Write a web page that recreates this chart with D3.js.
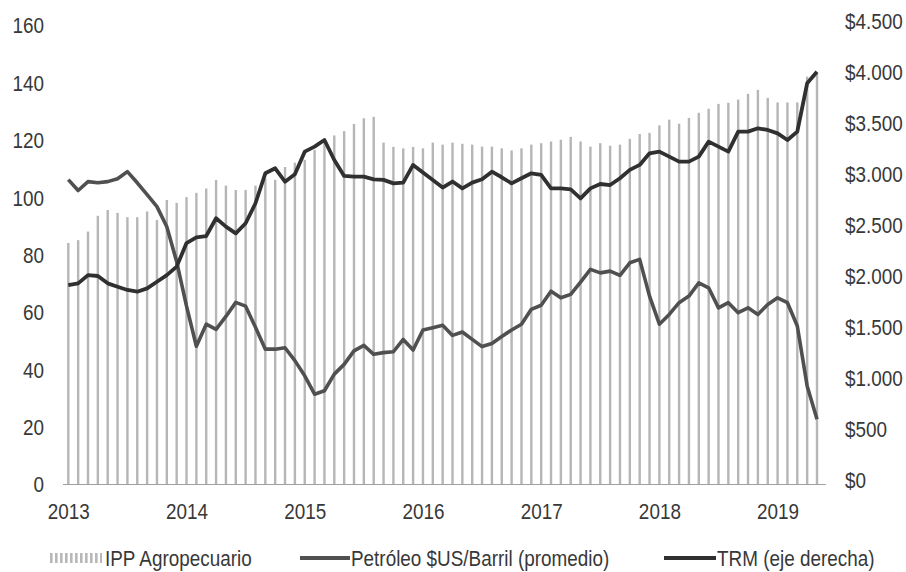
<!DOCTYPE html>
<html>
<head>
<meta charset="utf-8">
<script src="https://cdn.jsdelivr.net/npm/d3@7"></script>
<style>
  html, body { margin: 0; padding: 0; background: #ffffff; }
  svg text { font-family: "Liberation Sans Narrow", "Arial Narrow", "Liberation Sans", sans-serif; fill: #383838; }
</style>
</head>
<body>
<svg id="chart" width="906" height="572"></svg>
<script>
// ---- data ----
const months = d3.range(77).map(i => {
  const y = 2013 + Math.floor(i / 12), m = (i % 12) + 1;
  return `${y}-${String(m).padStart(2, "0")}`;
});
const yearLabels = ["2013", "2014", "2015", "2016", "2017", "2018", "2019"];
const leftTicks = [0, 20, 40, 60, 80, 100, 120, 140, 160];
const rightTicks = [0, 500, 1000, 1500, 2000, 2500, 3000, 3500, 4000, 4500];

const ippAgro = [
  84, 85, 88, 93.5, 95.5, 94.5, 93, 93, 95, 92, 99, 98,
  100, 101.5, 103, 106, 104, 102.5, 102.5, 104, 106.5, 106, 110.5, 112,
  113, 116.5, 120, 121.5, 123, 125.5, 127.5, 128, 119, 117.5, 117, 117.5,
  117, 119, 118.3, 119, 118.6, 118.3, 117.6, 117.6, 117, 116.3, 117, 118.3,
  118.8, 119.4, 120, 121, 119.4, 117.6, 118.8, 117.9, 118.3, 120.3, 122, 122.4,
  125, 127, 125.6, 127.6, 129.4, 130.8, 132.5, 132.9, 134, 136, 137.4, 134.6,
  133, 133, 133, 142, 143
];
const petroleo = [
  106.1, 102.3, 105.4, 105, 105.4, 106.4, 108.9, 105, 100.9, 96.7, 89.7, 77.5,
  62, 48, 55.7, 53.9, 58.4, 63.3, 62, 54.6, 47, 47, 47.5, 43,
  37.7, 31.3, 32.5, 38.3, 41.7, 46.4, 48.3, 45.2, 45.8, 46.1, 50.4, 46.7,
  53.7, 54.5, 55.3, 51.8, 53, 50.4, 47.9, 49, 51.4, 53.7, 55.7, 60.9,
  62.3, 67.2, 64.9, 66.1, 70.4, 74.8, 73.6, 74.2, 72.7, 77.1, 78.3, 65.5,
  55.7, 59.1, 63.2, 65.5, 70.1, 68.4, 61.4, 63.2, 59.7, 61.4, 59.1, 62.6,
  64.9, 63.2, 55.1, 34.2, 22.6
];
const trm = [
  1911, 1928, 2009, 2000, 1928, 1895, 1863, 1846, 1879, 1944, 2009, 2092,
  2323, 2379, 2392, 2566, 2484, 2418, 2517, 2713, 3007, 3056, 2925, 2998,
  3219, 3268, 3333, 3137, 2981, 2974, 2974, 2948, 2942, 2908, 2915, 3089,
  3014, 2942, 2867, 2926, 2859, 2915, 2948, 3023, 2968, 2908, 2958, 3007,
  2991, 2859, 2859, 2849, 2761, 2859, 2902, 2892, 2958, 3040, 3089, 3203,
  3219, 3170, 3121, 3121, 3170, 3317, 3268, 3219, 3415, 3415, 3448, 3432,
  3398, 3333, 3415, 3889, 4003
];
const legendLabels = ["IPP Agropecuario", "Petróleo $US/Barril (promedio)", "TRM (eje derecha)"];

// ---- chart ----
const svg = d3.select("#chart");
const FS = 22.5;
const SX = 0.84; // horizontal condensing (narrow face)

const x = d3.scalePoint().domain(months).range([68.3, 817]);
const yL = d3.scaleLinear().domain([0, 160]).range([484, 25]);
const yR = d3.scaleLinear().domain([0, 4500]).range([480, 21]);

const defs = svg.append("defs");
const pat = defs.append("pattern").attr("id", "stripes")
  .attr("patternUnits", "userSpaceOnUse").attr("width", 5).attr("height", 4);
pat.append("rect").attr("x", 0).attr("y", 0).attr("width", 2.6).attr("height", 4).attr("fill", "#b8b8b8");

// bars
svg.append("g").selectAll("rect").data(ippAgro).join("rect")
  .attr("x", (d, i) => x(months[i]) - 1.2)
  .attr("width", 2.4)
  .attr("y", d => yL(d))
  .attr("height", d => yL(0) - yL(d))
  .attr("fill", "#b6b6b6");

// baseline
svg.append("line")
  .attr("x1", 63).attr("x2", 826)
  .attr("y1", yL(0) + 0.5).attr("y2", yL(0) + 0.5)
  .attr("stroke", "#a0a0a0").attr("stroke-width", 1.2);

// lines
const lineL = d3.line().x((d, i) => x(months[i])).y(d => yL(d));
const lineR = d3.line().x((d, i) => x(months[i])).y(d => yR(d));
svg.append("path").datum(petroleo).attr("d", lineL)
  .attr("fill", "none").attr("stroke", "#505050").attr("stroke-width", 3.6)
  .attr("stroke-linejoin", "round");
svg.append("path").datum(trm).attr("d", lineR)
  .attr("fill", "none").attr("stroke", "#303030").attr("stroke-width", 3.8)
  .attr("stroke-linejoin", "round");

// left axis
const gL = svg.append("g").attr("transform", "translate(44,0)")
  .call(d3.axisLeft(yL).tickValues(leftTicks).tickSize(0).tickPadding(0));
gL.select(".domain").remove();
gL.selectAll("text").style("font-size", FS + "px").attr("dy", "0.35em")
  .attr("transform", `scale(${SX},1)`);

// right axis
const fmtR = v => "$" + d3.format(",")(v).replace(/,/g, ".");
const gR = svg.append("g").attr("transform", "translate(845,0)")
  .call(d3.axisRight(yR).tickValues(rightTicks).tickFormat(fmtR).tickSize(0).tickPadding(0));
gR.select(".domain").remove();
gR.selectAll("text").style("font-size", FS + "px").attr("dy", "0.35em")
  .attr("transform", `scale(${SX},1)`);

// bottom axis
const yearTicks = yearLabels.map(y => `${y}-01`);
const gB = svg.append("g").attr("transform", `translate(0,${yL(0)})`)
  .call(d3.axisBottom(x).tickValues(yearTicks).tickFormat(d => d.slice(0, 4)).tickSize(0).tickPadding(19));
gB.select(".domain").remove();
gB.selectAll("text").style("font-size", FS + "px")
  .attr("transform", `scale(${SX},1)`);

// legend
const lg = svg.append("g").attr("transform", "translate(0,558)");
lg.append("rect").attr("x", 50).attr("y", -5).attr("width", 52).attr("height", 10).attr("fill", "url(#stripes)");
const legText = (x0, s) => lg.append("g").attr("transform", `translate(${x0},0) scale(${SX},1)`)
  .append("text").attr("x", 0).attr("y", 7.5).style("font-size", FS + "px").text(s);
legText(105, legendLabels[0]);
lg.append("line").attr("x1", 300).attr("x2", 350).attr("y1", 0).attr("y2", 0)
  .attr("stroke", "#505050").attr("stroke-width", 3.8);
legText(351, legendLabels[1]);
lg.append("line").attr("x1", 664).attr("x2", 716).attr("y1", 0).attr("y2", 0)
  .attr("stroke", "#303030").attr("stroke-width", 3.8);
legText(717, legendLabels[2]);
</script>
</body>
</html>
